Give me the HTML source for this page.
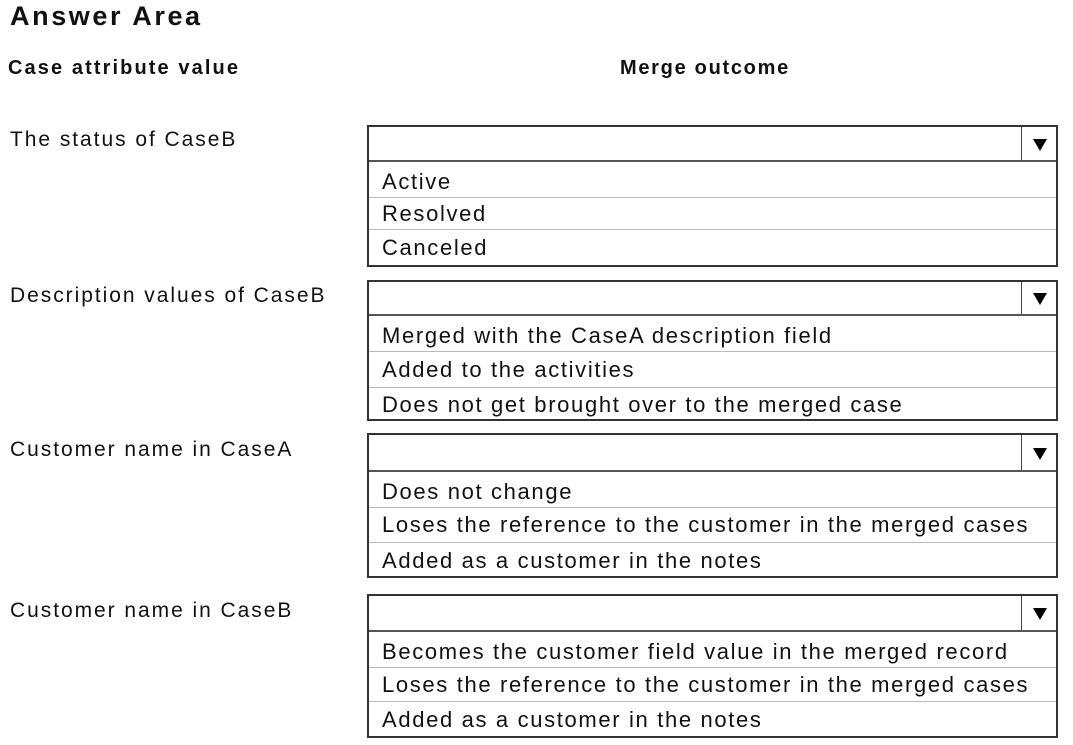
<html><head><style>
body{margin:0;width:1073px;height:745px;background:#fff;font-family:"Liberation Sans",sans-serif;color:#111;position:relative;overflow:hidden}
.a{position:absolute;white-space:nowrap}
.box{position:absolute;left:367px;width:691px;border:2px solid #333;box-sizing:border-box;background:#fff}
.hd{position:relative;border-bottom:2px solid #555}
.ar{position:absolute;right:0;top:0;bottom:0;width:34px;border-left:1.5px solid #444}
.ar:after{content:"";position:absolute;left:11px;top:50%;margin-top:-5px;border-left:7px solid transparent;border-right:7px solid transparent;border-top:12px solid #000}
.r{border-bottom:1px solid #bbb;padding-left:13px;font-size:22px;box-sizing:border-box;display:flex;align-items:center;letter-spacing:1.65px;white-space:nowrap}
.r:last-child{border-bottom:none}
.lb{font-size:21px;letter-spacing:1.95px}
</style></head><body>
<div class="a" style="left:10px;top:1px;font-size:27px;font-weight:bold;letter-spacing:2.6px">Answer Area</div>
<div class="a" style="left:8px;top:57px;font-size:20px;font-weight:bold;letter-spacing:2.1px">Case attribute value</div>
<div class="a" style="left:620px;top:57px;font-size:20px;font-weight:bold;letter-spacing:1.7px">Merge outcome</div>
<div class="a lb" style="left:10px;top:128px">The status of CaseB</div>
<div class="a lb" style="left:10px;top:284px">Description values of CaseB</div>
<div class="a lb" style="left:10px;top:438px">Customer name in CaseA</div>
<div class="a lb" style="left:10px;top:599px">Customer name in CaseB</div>

<div class="box" style="top:125px;height:142px">
<div class="hd" style="height:33px"><div class="ar"></div></div>
<div class="r" style="height:36px;padding-top:4px">Active</div>
<div class="r" style="height:32px">Resolved</div>
<div class="r" style="height:35px">Canceled</div></div>

<div class="box" style="top:280px;height:141px">
<div class="hd" style="height:32px"><div class="ar"></div></div>
<div class="r" style="height:36px;padding-top:4px">Merged with the CaseA description field</div>
<div class="r" style="height:36px">Added to the activities</div>
<div class="r" style="height:33px">Does not get brought over to the merged case</div></div>

<div class="box" style="top:433px;height:145px">
<div class="hd" style="height:35px"><div class="ar"></div></div>
<div class="r" style="height:36px;padding-top:4px">Does not change</div>
<div class="r" style="height:35px">Loses the reference to the customer in the merged cases</div>
<div class="r" style="height:35px">Added as a customer in the notes</div></div>

<div class="box" style="top:594px;height:144px">
<div class="hd" style="height:34px"><div class="ar"></div></div>
<div class="r" style="height:36px;padding-top:4px">Becomes the customer field value in the merged record</div>
<div class="r" style="height:34px">Loses the reference to the customer in the merged cases</div>
<div class="r" style="height:36px">Added as a customer in the notes</div></div>
</body></html>
